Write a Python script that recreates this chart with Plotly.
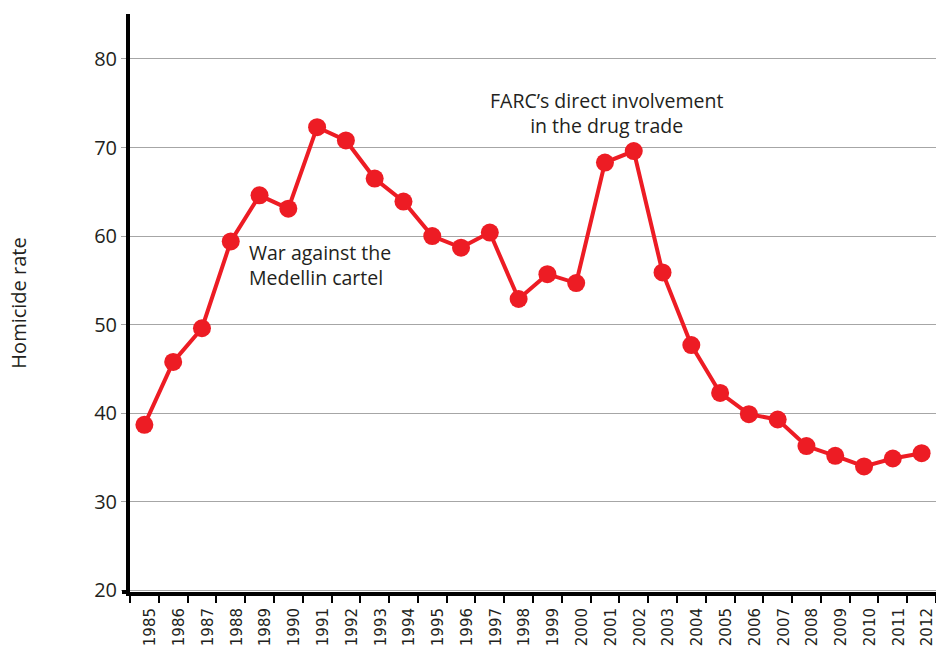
import plotly.graph_objects as go

years = [str(y) for y in range(1985, 2013)]
homicide_rate = [38.7, 45.8, 49.6, 59.4, 64.6, 63.1, 72.3, 70.8, 66.5, 63.9,
                 60.0, 58.7, 60.4, 52.9, 55.7, 54.7, 68.3, 69.6, 55.9, 47.7,
                 42.3, 39.9, 39.3, 36.3, 35.2, 34.0, 34.9, 35.5]
y_ticks = [20, 30, 40, 50, 60, 70, 80]

RED = "#ED1C24"
TXT = "#231f20"
FONT = "Open Sans"

fig = go.Figure()
fig.add_trace(go.Scatter(
    x=years, y=homicide_rate, mode="lines+markers",
    line=dict(color=RED, width=4),
    marker=dict(color=RED, size=18),
    showlegend=False, hoverinfo="x+y",
))

fig.add_annotation(x=3.55, y=56.7, xref="x", yref="y",
                   text="War against the<br>Medellin cartel", showarrow=False,
                   xanchor="left", yanchor="middle", align="left",
                   font=dict(family=FONT, size=19.5, color=TXT))
fig.add_annotation(x=16.07, y=73.9, xref="x", yref="y",
                   text="FARC\u2019s direct involvement<br>in the drug trade", showarrow=False,
                   xanchor="center", yanchor="middle", align="center",
                   font=dict(family=FONT, size=19.5, color=TXT))

# small black extension of the x axis line to the left of the y axis
fig.add_shape(type="line", xref="paper", yref="paper",
              x0=-8 / 806, x1=0, y0=0, y1=0,
              line=dict(color="black", width=4))

fig.update_layout(
    width=936, height=649,
    margin=dict(l=130, r=0, t=14, b=57, autoexpand=False),
    paper_bgcolor="white", plot_bgcolor="white",
    font=dict(family=FONT, color=TXT),
    xaxis=dict(
        type="category", range=[-0.5, 27.5], automargin=False,
        tickson="boundaries", ticks="outside", ticklen=7, tickwidth=2,
        tickcolor="black", tickangle=-90,
        tickfont=dict(family="DejaVu Sans", size=15, color=TXT),
        showline=True, linecolor="black", linewidth=4,
        showgrid=False, zeroline=False, ticklabelstandoff=6,
        ticklabelshift=6,
    ),
    yaxis=dict(
        range=[19.83, 85.07], tickvals=y_ticks, automargin=False,
        ticks="outside", ticklen=5, tickwidth=1, tickcolor="#a6a6a6",
        tickfont=dict(family=FONT, size=20, color=TXT),
        showline=True, linecolor="black", linewidth=4,
        showgrid=True, gridcolor="#a6a6a6", gridwidth=1.3,
        zeroline=False,
        title=dict(text="Homicide rate", font=dict(family=FONT, size=20, color=TXT),
                   standoff=63),
    ),
)

post = (
    "var h=document.documentElement,b=document.body;"
    "h.style.margin='0';h.style.padding='0';h.style.overflow='hidden';"
    "b.style.margin='0';b.style.padding='0';b.style.overflow='hidden';"
)

fig.write_html("out.html", post_script=post, config={"displayModeBar": False})
